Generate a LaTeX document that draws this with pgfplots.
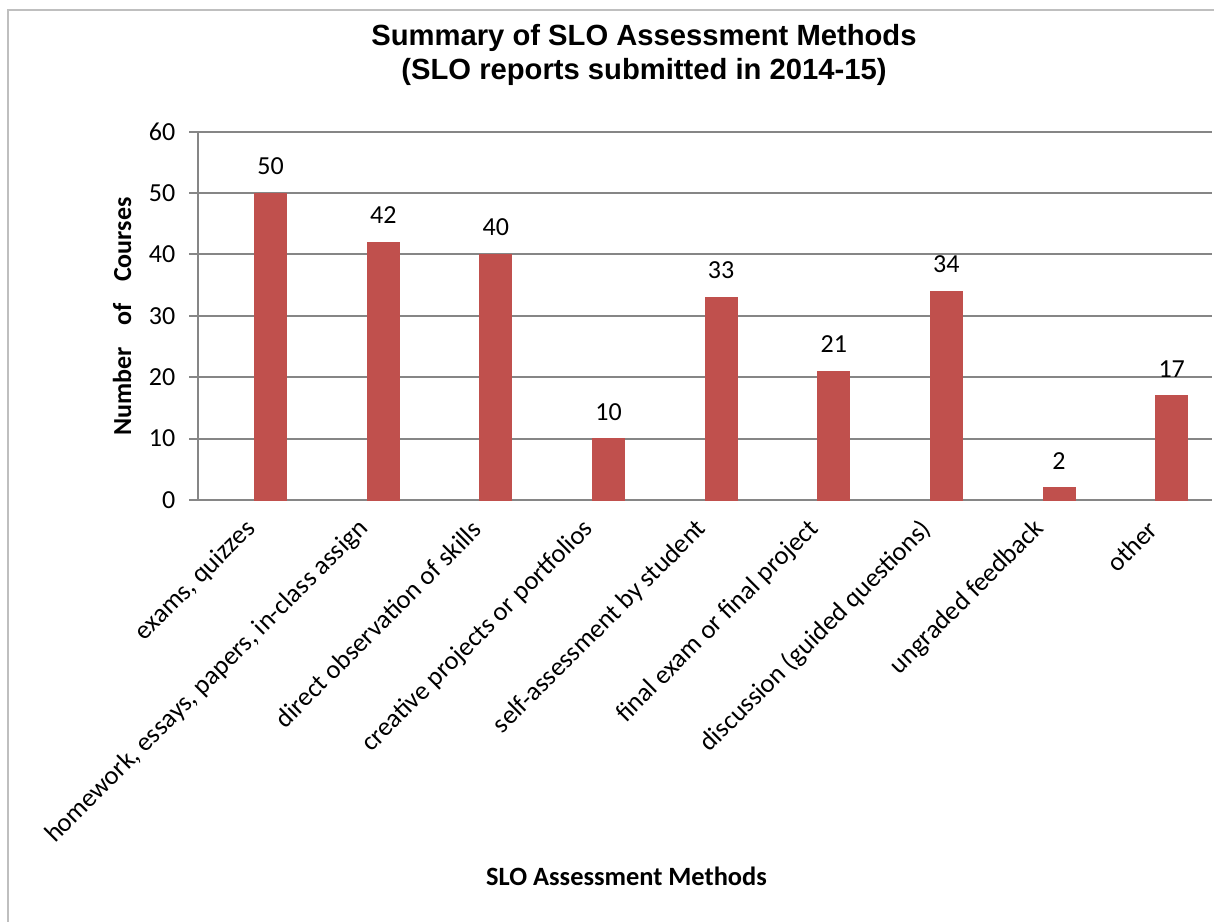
\documentclass[border=0pt]{standalone}
\usepackage{pgfplots}
\pgfplotsset{compat=1.18}
\usepackage{fontspec}
\setmainfont{Carlito}
\newfontfamily\arialfont{Liberation Sans}
\definecolor{barred}{HTML}{C0504D}
\definecolor{gridgray}{HTML}{868686}
\definecolor{framegray}{HTML}{BFBFBF}
\begin{document}
\begin{tikzpicture}[x=0.5pt,y=0.5pt]
\draw[framegray, line width=1pt] (8,911) rectangle (1250,-30);
\begin{axis}[
  at={(99.15pt,210.5pt)}, anchor=south west,
  scale only axis, width=506.85pt, height=184.15pt,
  ybar, bar width=16pt, bar shift=8pt,
  xmin=-0.5, xmax=8.5, ymin=0, ymax=60,
  ytick={0,10,...,60},
  xtick={0,...,8},
  xticklabels={exams{,} quizzes, homework{,} essays{,} papers{,} in-class assign, direct observation of skills, creative projects or portfolios, self-assessment by student, final exam or final project, discussion (guided questions), ungraded feedback, other},
  x tick style={draw=none},
  extra x ticks={-0.5,0.5,...,8.5},
  extra x tick labels={},
  extra x tick style={major tick length=4.5pt, tick style={draw=gridgray, line width=1pt}, grid=none},
  ymajorgrids, grid style={gridgray, line width=1pt},
  axis lines*=left,
  axis line style={gridgray, line width=1pt, -},
  every outer x axis line/.append style={-},
  every outer y axis line/.append style={-},
  tick align=outside,
  major tick length=4.5pt,
  ytick style={gridgray, line width=1pt},
  /pgf/number format/assume math mode=true,
  tick label style={font=\fontsize{13}{15}\selectfont, text=black},
  yticklabel style={xshift=-3.5pt},
  xticklabel style={rotate=45, anchor=east, inner sep=2pt, font=\fontsize{13.2}{15}\selectfont},
  xticklabel shift=6.5pt,
  nodes near coords,
  every node near coord/.append style={font=\fontsize{13}{15}\selectfont, anchor=south, inner sep=0pt, yshift=9pt, text=black},
]
\addplot[fill=barred, draw=barred] coordinates {(0,50) (1,42) (2,40) (3,10) (4,33) (5,21) (6,34) (7,2) (8,17)};
\end{axis}
\node[font=\arialfont\bfseries\fontsize{14.6}{16}\selectfont, anchor=base] at (644,875) {Summary of SLO Assessment Methods};
\node[font=\arialfont\bfseries\fontsize{14.6}{16}\selectfont, anchor=base] at (644,841) {(SLO reports submitted in 2014-15)};
\node[font=\bfseries\fontsize{13.2}{15}\selectfont, anchor=base] at (626.5,36) {SLO Assessment Methods};
\node[font=\bfseries\fontsize{13}{15}\selectfont, anchor=base, rotate=90] at (131,604.5) {Number\hspace{0.6em} of\hspace{0.6em} Courses};
\pgfresetboundingbox
\path (0,0) rectangle (1214,921);
\end{tikzpicture}
\end{document}
